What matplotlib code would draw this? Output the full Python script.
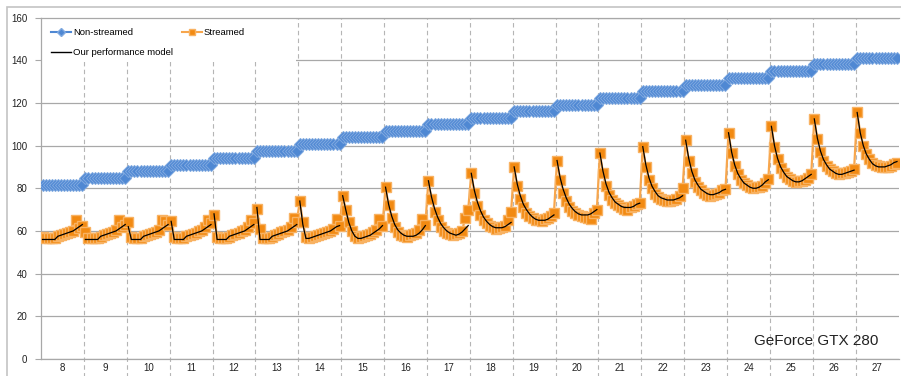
import numpy as np
import matplotlib
matplotlib.use('Agg')
import matplotlib.pyplot as plt
from matplotlib.lines import Line2D
from matplotlib.patches import Rectangle

plt.rcParams['font.family'] = ['Liberation Sans', 'DejaVu Sans']

# problem sizes on the x axis, 14 measurements per size
sizes = list(range(8, 28))
n_sub = 14

# non-streamed: one flat level per size
non_streamed_levels = [81.7, 85.0, 88.0, 91.0, 94.3, 97.5, 100.7, 103.8, 107.0, 110.0,
                       113.0, 116.0, 119.2, 122.3, 125.5, 128.6, 131.8, 135.0, 138.2, 141.2]

streamed = [
    [57.0, 56.5, 56.5, 56.5, 56.8, 57.5, 58.0, 58.5, 59.0, 59.5, 60.0, 65.0, 61.5, 62.5],
    [59.5, 56.5, 56.5, 56.5, 56.8, 57.0, 58.0, 58.5, 59.0, 59.5, 60.5, 65.0, 62.0, 63.0],
    [64.0, 57.0, 56.5, 56.5, 56.5, 57.5, 58.0, 58.5, 59.0, 59.5, 60.5, 65.0, 64.5, 63.0],
    [64.5, 57.0, 56.5, 56.5, 56.5, 57.5, 58.0, 58.5, 59.0, 60.0, 60.5, 62.0, 65.0, 63.5],
    [67.5, 57.0, 56.5, 56.5, 56.5, 57.0, 58.0, 58.5, 59.0, 60.0, 60.5, 62.0, 65.0, 63.5],
    [70.5, 61.0, 56.5, 56.5, 56.5, 57.0, 58.0, 58.5, 59.5, 60.0, 60.5, 62.0, 66.0, 64.0],
    [74.0, 64.0, 57.0, 56.5, 57.0, 57.5, 58.0, 58.5, 59.0, 59.5, 60.0, 61.0, 65.5, 62.5],
    [76.5, 70.0, 64.0, 60.0, 57.5, 56.5, 57.0, 57.5, 58.0, 58.5, 59.5, 60.5, 65.5, 62.5],
    [80.5, 72.0, 66.0, 62.0, 59.5, 58.0, 57.5, 57.0, 58.0, 58.5, 59.0, 60.5, 65.5, 63.0],
    [83.5, 75.0, 69.0, 65.0, 62.0, 60.0, 59.0, 58.5, 58.0, 58.5, 59.0, 60.0, 66.0, 70.0],
    [87.0, 78.0, 71.5, 67.5, 65.0, 63.5, 62.5, 62.0, 61.0, 61.5, 62.0, 62.5, 65.0, 69.0],
    [90.0, 81.0, 75.0, 71.0, 68.5, 67.0, 66.0, 65.0, 65.0, 64.5, 65.5, 66.0, 67.0, 68.5],
    [93.0, 84.0, 78.0, 74.0, 71.0, 69.5, 68.5, 67.5, 67.0, 66.5, 66.0, 65.5, 68.5, 70.0],
    [96.5, 87.0, 81.0, 77.0, 74.5, 73.0, 72.0, 71.0, 70.5, 70.0, 71.0, 71.5, 72.5, 73.0],
    [99.5, 90.0, 84.0, 80.0, 77.5, 76.0, 75.0, 74.5, 74.0, 74.0, 74.5, 75.0, 76.5, 80.0],
    [102.5, 93.0, 87.0, 83.0, 80.5, 79.0, 78.0, 77.0, 76.5, 77.0, 77.5, 78.0, 79.0, 79.5],
    [106.0, 96.5, 90.5, 86.5, 84.0, 82.5, 81.5, 80.5, 80.0, 80.5, 80.5, 81.0, 82.5, 84.5],
    [109.0, 99.5, 93.5, 89.5, 87.0, 85.5, 84.5, 83.5, 83.0, 83.5, 83.5, 84.0, 85.0, 86.5],
    [112.5, 103.0, 97.0, 93.0, 90.5, 89.0, 88.0, 87.0, 86.5, 87.0, 87.0, 87.5, 88.0, 89.0],
    [115.5, 106.0, 100.0, 96.0, 93.5, 92.0, 91.0, 90.5, 90.0, 90.0, 90.0, 90.5, 91.5, 92.0],
]

model = [
    [56.0, 56.0, 56.0, 56.0, 56.0, 57.5, 58.0, 58.5, 59.0, 59.5, 60.0, 61.0, 62.0, 63.0],
    [56.0, 56.0, 56.0, 56.0, 56.0, 57.5, 58.0, 58.5, 59.0, 59.5, 60.0, 61.0, 62.0, 63.0],
    [62.0, 56.0, 56.0, 56.0, 56.0, 57.5, 58.0, 58.5, 59.0, 59.5, 60.0, 61.0, 62.0, 63.0],
    [64.5, 56.0, 56.0, 56.0, 56.0, 57.5, 58.0, 58.5, 59.0, 59.5, 60.0, 61.0, 62.0, 63.0],
    [68.0, 56.0, 56.0, 56.0, 56.0, 57.5, 58.0, 58.5, 59.0, 59.5, 60.0, 61.0, 62.0, 63.0],
    [71.0, 56.0, 56.0, 56.0, 56.0, 57.5, 58.0, 58.5, 59.0, 59.5, 60.0, 61.0, 62.0, 63.0],
    [74.0, 63.0, 56.5, 56.5, 57.0, 57.5, 58.0, 58.5, 59.0, 59.5, 60.0, 61.0, 62.0, 62.5],
    [76.5, 70.0, 64.0, 60.0, 57.5, 56.5, 56.5, 57.0, 57.5, 58.0, 59.0, 60.0, 61.0, 62.5],
    [80.5, 72.5, 67.0, 63.0, 60.5, 59.0, 58.0, 57.5, 57.5, 57.5, 58.0, 59.0, 60.5, 62.5],
    [83.5, 76.0, 70.5, 66.5, 63.5, 61.5, 60.0, 59.0, 58.5, 58.0, 58.5, 59.5, 61.0, 62.5],
    [87.0, 79.0, 73.5, 69.5, 66.5, 64.5, 63.0, 62.0, 61.5, 61.5, 61.5, 62.0, 63.0, 64.0],
    [90.0, 82.0, 76.5, 72.5, 70.0, 68.0, 66.5, 65.5, 65.0, 65.0, 65.0, 65.5, 66.5, 67.5],
    [93.0, 85.0, 79.5, 75.5, 72.5, 70.5, 69.0, 68.0, 67.5, 67.5, 67.5, 68.0, 69.0, 70.0],
    [96.5, 88.0, 82.0, 78.0, 75.5, 73.5, 72.5, 71.5, 71.0, 71.0, 71.0, 71.5, 72.5, 73.0],
    [99.5, 91.0, 85.0, 81.0, 78.5, 76.5, 75.5, 75.0, 74.5, 74.5, 74.5, 75.0, 75.5, 76.5],
    [102.5, 94.0, 88.0, 84.0, 81.5, 79.5, 78.5, 77.5, 77.0, 77.0, 77.5, 78.0, 79.0, 79.5],
    [106.0, 97.0, 91.0, 87.0, 84.5, 82.5, 81.5, 80.5, 80.0, 80.0, 80.5, 81.5, 83.0, 84.0],
    [109.0, 100.0, 94.0, 90.0, 87.5, 85.5, 84.5, 83.5, 83.0, 83.0, 83.5, 84.5, 85.5, 86.5],
    [112.5, 103.5, 97.5, 93.5, 91.0, 89.0, 88.0, 87.0, 86.5, 86.5, 87.0, 87.5, 88.0, 88.5],
    [115.5, 106.0, 100.0, 96.0, 93.5, 91.5, 90.5, 90.0, 90.0, 90.0, 90.5, 91.0, 92.0, 92.5],
]

BLUE = '#4f88d3'
BLUE_EDGE = '#7fa9e0'
ORANGE = '#f28a12'
ORANGE_EDGE = '#f8b262'
GRID = '#a8a8a8'

n_cat = len(sizes)
xs = np.arange(n_cat)[:, None] + (np.arange(n_sub) + 0.5) / n_sub
non_streamed = np.repeat(non_streamed_levels, n_sub)
streamed_arr = np.array(streamed)
model_arr = np.array(model)

fig = plt.figure(figsize=(9.01, 3.76), dpi=100)
ax = fig.add_axes([41 / 901, 17 / 376, 857.5 / 901, 341.5 / 376])

# light frame round the whole chart
fig.patches.append(Rectangle((7 / 901, -0.1), 1.2, 1.1 - 6.5 / 376, transform=fig.transFigure,
                             fill=False, ec='#c4c4c4', lw=1.2))

ax.set_xlim(0, n_cat)
ax.set_ylim(0, 160)
ax.set_yticks(range(0, 161, 20))
ax.yaxis.grid(True, color=GRID, lw=0.9)
ax.set_axisbelow(True)
for side in ('left', 'bottom', 'top'):
    ax.spines[side].set_color(GRID)
    ax.spines[side].set_linewidth(0.9)
ax.spines['right'].set_visible(False)
ax.tick_params(axis='y', direction='out', length=4, color=GRID, labelsize=7,
               labelcolor='#222222', pad=6)
ax.set_xticks(np.arange(n_cat) + 0.5)
ax.set_xticklabels([str(s) for s in sizes])
ax.tick_params(axis='x', length=0, labelsize=7, labelcolor='#222222', pad=3)

# dashed separators between sizes, running down into the label row
for b in range(1, n_cat):
    ax.axvline(b, ymin=-0.06, ymax=1, color='#b5b5b5', lw=0.8, ls=(0, (4, 3)),
               zorder=1, clip_on=False)

# blank area behind the legend
ax.add_patch(Rectangle((0, 139), 5.95, 20.8, fc='white', ec='none', zorder=1.5))

ax.plot(xs.ravel(), non_streamed, '-', color=BLUE, lw=1.8, marker='D', ms=6.2,
        mfc=BLUE, mec=BLUE_EDGE, mew=0.7, zorder=3)
ax.plot(xs.ravel(), streamed_arr.ravel(), '-', color='#f7a64d', lw=1.6, marker='s', ms=7,
        mfc=ORANGE, mec=ORANGE_EDGE, mew=1.0, zorder=4)

# model curve is drawn per size, not joined across sizes
mx = np.column_stack([xs, np.full(n_cat, np.nan)]).ravel()
my = np.column_stack([model_arr, np.full(n_cat, np.nan)]).ravel()
ax.plot(mx, my, '-', color='black', lw=0.9, zorder=5)

ax.text(16.62, 8.4, 'GeForce GTX 280', fontsize=11, color='#222222', va='center', ha='left')

handles = [
    Line2D([], [], color=BLUE, lw=1.5, marker='D', ms=4.5, mfc=BLUE, mec=BLUE_EDGE),
    Line2D([], [], color='black', lw=1.0),
    Line2D([], [], color='#f7a64d', lw=1.5, marker='s', ms=5, mfc=ORANGE, mec=ORANGE_EDGE),
]
labels = ['Non-streamed', 'Our performance model', 'Streamed']
ax.legend(handles, labels, loc='upper left', bbox_to_anchor=(0.0117, 0.968), ncol=2,
          frameon=False, fontsize=6.8, handlelength=2.1, handletextpad=0.25,
          columnspacing=0.9, labelspacing=1.1, borderpad=0, borderaxespad=0)

fig.savefig('out.png', dpi=100)
